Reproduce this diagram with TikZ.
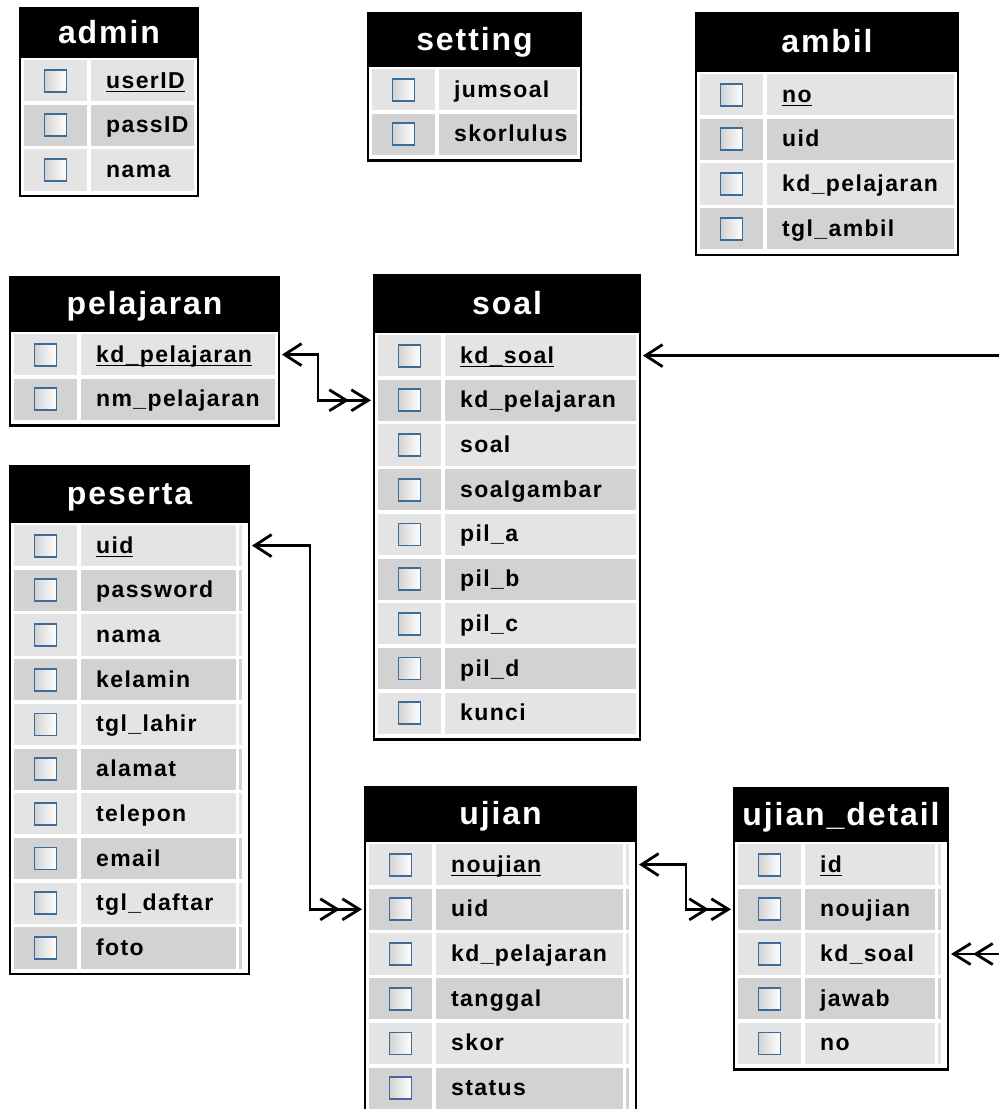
\documentclass[tikz,border=0pt]{standalone}
\usepackage{fontspec}
\setmainfont{Liberation Sans}
\newfontfamily\erdfont[LetterSpace=6]{Liberation Sans}
\usetikzlibrary{arrows.meta}

\definecolor{rowlight}{HTML}{E4E4E4}
\definecolor{rowdark}{HTML}{D2D2D2}
\definecolor{chkblue}{HTML}{3D6B9A}

\tikzset{
  tabframe/.style={draw=black, line width=2.5pt, fill=white},
  title/.style={text=white, anchor=base, inner sep=0pt, font=\erdfont\bfseries\fontsize{32}{32}\selectfont},
  field/.style={anchor=base west, inner sep=0pt, font=\erdfont\bfseries\fontsize{23}{23}\selectfont},
  chkbox/.style={draw=chkblue, line width=1.8pt, left color=gray!35, right color=white},
  rowspot/.style={rectangle, inner sep=0pt, outer sep=3pt, minimum height=40pt},
  rel/.style={line width=2.8pt,
    {Straight Barb[length=17pt,width=22pt]}-{Straight Barb[length=17pt,width=21pt,sep=1pt] Straight Barb[length=17pt,width=21pt]}}
}

\newcommand{\rowpitch}{44.7}
% key field: underline
\newcommand{\pkline}[1]{\setbox0\hbox{#1}\rlap{\rule[-4pt]{\wd0}{1.5pt}}\box0}
% #1 name, #2 title, #3 left, #4 top, #5 right, #6 header bottom, #7 sliver, #8 fields
\newcommand{\dbtable}[8]{%
  \foreach \f/\k [count=\n] in {#8} {\xdef\nrows{\n}}
  \pgfmathsetmacro{\ybot}{#6+4+\nrows*\rowpitch}
  \draw[tabframe] (#3,#4) rectangle (#5,\ybot);
  \fill (#3,#4) rectangle (#5,#6);
  \node[title] (#1) at ({(#3+#5)/2},{(#4+#6)/2+10}) {#2};
  \foreach \f/\k [count=\i] in {#8} {
    \pgfmathsetmacro{\ya}{#6+2+(\i-1)*\rowpitch}
    \pgfmathsetmacro{\yb}{\ya+\rowpitch-3.5}
    \pgfmathsetmacro{\yc}{(\ya+\yb)/2}
    \ifodd\i\relax \def\rowcol{rowlight}\else \def\rowcol{rowdark}\fi
    \fill[\rowcol] (#3+4,\ya) rectangle (#3+67,\yb);
    \ifnum#7=1
      \fill[\rowcol] (#3+71,\ya) rectangle (#5-13,\yb);
      \fill[\rowcol] (#5-10,\ya) rectangle (#5-7,\yb);
    \else
      \fill[\rowcol] (#3+71,\ya) rectangle (#5-4,\yb);
    \fi
    \draw[chkbox] (#3+24.5,\yc-11) rectangle (#3+46.5,\yc+11);
    \node[field] at (#3+86,\yc+7.5) {\ifnum\k=1 \pkline{\f}\else\f\fi};
    \node[rowspot, minimum width=#5-#3] (#1-\i) at ({(#3+#5)/2},\yc) {};
  }
}

\begin{document}
\begin{tikzpicture}[x=1pt,y=-1pt]
\path[use as bounding box, fill=white] (0,0) rectangle (999,1109);
\clip (0,0) rectangle (999,1109);

\dbtable{admin}{admin}{20}{8}{198}{58}{0}{userID/1, passID/0, nama/0}
\dbtable{setting}{setting}{368}{13}{581}{67}{0}{jumsoal/0, skorlulus/0}
\dbtable{ambil}{ambil}{696}{13}{958}{72}{0}{no/1, uid/0, kd\_pelajaran/0, tgl\_ambil/0}
\dbtable{pelajaran}{pelajaran}{10}{277}{279}{332}{0}{kd\_pelajaran/1, nm\_pelajaran/0}
\dbtable{soal}{soal}{374}{275}{640}{333}{0}{kd\_soal/1, kd\_pelajaran/0, soal/0, soalgambar/0, pil\_a/0, pil\_b/0, pil\_c/0, pil\_d/0, kunci/0}
\dbtable{peserta}{peserta}{10}{466}{249}{523}{1}{uid/1, password/0, nama/0, kelamin/0, tgl\_lahir/0, alamat/0, telepon/0, email/0, tgl\_daftar/0, foto/0}
\dbtable{ujian}{ujian}{365}{787}{636}{842}{1}{noujian/1, uid/0, kd\_pelajaran/0, tanggal/0, skor/0, status/0}
\dbtable{detail}{ujian\_detail}{734}{788}{948}{842}{1}{id/1, noujian/0, kd\_soal/0, jawab/0, no/0}

% relations
\draw[rel] (pelajaran-1.east) -- ++(36,0) |- (soal-2.west);
\draw[rel] (peserta-1.east) -- ++(58,0) |- (ujian-2.west);
\draw[rel] (ujian-1.east) -- ++(47,0) |- (detail-2.west);
\draw[rel] (soal-1.east) -- ++(420,0) |- (detail-3.east);
\end{tikzpicture}
\end{document}
